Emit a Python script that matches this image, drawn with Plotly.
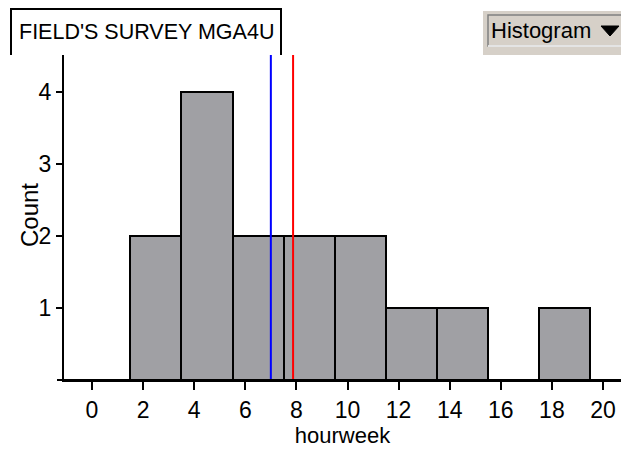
import plotly.graph_objects as go

# ---- data ----
bin_centers = [2.5, 4.5, 6.5, 8.5, 10.5, 12.5, 14.5, 16.5, 18.5]
counts = [2, 4, 2, 2, 2, 1, 1, 0, 1]
bin_width = 2
mean_value = 7.0
median_value = 7.87
x_ticks = [0, 2, 4, 6, 8, 10, 12, 14, 16, 18, 20]
y_ticks = [1, 2, 3, 4]

W, H = 621, 453
L, R, T, B = 64, 0, 55, 73
PW, PH = W - L - R, H - T - B
FONT = "Liberation Sans, Arial, Helvetica"

def px(x):
    return (x - L) / PW

def py(y):
    return (H - B - y) / PH

fig = go.Figure()
fig.add_trace(go.Bar(
    x=bin_centers, y=counts, width=bin_width,
    marker=dict(color="#a0a0a4", line=dict(color="black", width=2)),
    hoverinfo="skip", showlegend=False,
))

shapes = []
for val, col in [(mean_value, "#0000ff"), (median_value, "#ff0000")]:
    shapes.append(dict(type="line", xref="x", yref="paper", x0=val, x1=val,
                       y0=0, y1=1, line=dict(color=col, width=2)))
# bottom axis line extension
shapes.append(dict(type="line", xref="paper", yref="paper", x0=px(57), x1=1,
                   y0=0, y1=0, line=dict(color="black", width=2)))
# title box (open at bottom)
shapes.append(dict(type="path", xref="paper", yref="paper",
                   path=f"M {px(11)},{py(55)} L {px(11)},{py(9)} L {px(281)},{py(9)} L {px(281)},{py(55)}",
                   line=dict(color="black", width=2)))
# Histogram button
shapes.append(dict(type="rect", xref="paper", yref="paper",
                   x0=px(483), x1=px(622), y0=py(55), y1=py(11),
                   fillcolor="#d6d0c8", line=dict(width=0)))
shapes.append(dict(type="rect", xref="paper", yref="paper",
                   x0=px(488), x1=px(622), y0=py(46), y1=py(15),
                   fillcolor="#d6d0c8", line=dict(color="#808080", width=1.5)))
shapes.append(dict(type="line", xref="paper", yref="paper",
                   x0=px(488), x1=px(622), y0=py(46), y1=py(46),
                   line=dict(color="#ffffff", width=1.5)))
shapes.append(dict(type="path", xref="paper", yref="paper",
                   path=f"M {px(601)},{py(26)} L {px(619)},{py(26)} L {px(610)},{py(36)} Z",
                   fillcolor="black", line=dict(color="black", width=1)))

annotations = [
    dict(text="FIELD'S SURVEY MGA4U", xref="paper", yref="paper",
         x=px(146), y=py(32), showarrow=False, xanchor="center", yanchor="middle",
         font=dict(family=FONT, size=21.5, color="black")),
    dict(text="Histogram", xref="paper", yref="paper",
         x=px(489), y=py(31), showarrow=False, xanchor="left", yanchor="middle",
         font=dict(family=FONT, size=22, color="black")),
    dict(text="Count", xref="paper", yref="paper", textangle=-90,
         x=px(29), y=py(215), showarrow=False, xanchor="center", yanchor="middle",
         font=dict(family=FONT, size=24, color="black")),
]

fig.update_layout(
    width=W, height=H,
    margin=dict(l=L, r=R, t=T, b=B),
    paper_bgcolor="white", plot_bgcolor="white",
    bargap=0,
    font=dict(family=FONT, size=23, color="black"),
    shapes=shapes, annotations=annotations,
    xaxis=dict(range=[(L - 92) / 25.55, (W - 92) / 25.55], tickvals=x_ticks,
               ticks="outside", ticklen=8, tickwidth=2, tickcolor="black",
               tickfont=dict(size=23),
               showline=True, linecolor="black", linewidth=2, showgrid=False, zeroline=False,
               title=dict(text="hourweek", standoff=6, font=dict(size=22))),
    yaxis=dict(range=[0, 4.51], tickvals=y_ticks,
               ticks="outside", ticklen=6, tickwidth=2, tickcolor="black",
               tickfont=dict(size=23),
               showline=True, linecolor="black", linewidth=2, showgrid=False, zeroline=False),
)

fig.write_html("out.html", config={"displayModeBar": False},
               post_script="document.body.style.margin='0';")
